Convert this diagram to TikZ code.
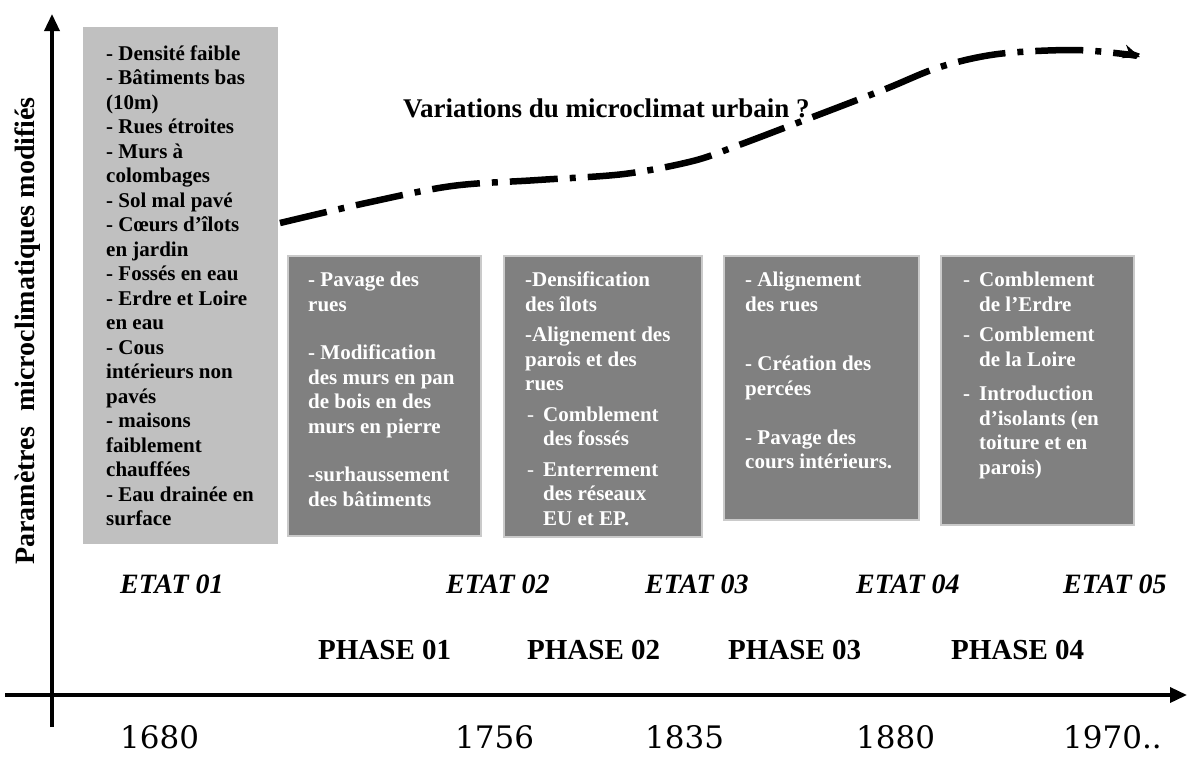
\documentclass[tikz,border=0pt]{standalone}
\usepackage{fontspec}
\setmainfont{Liberation Serif}
\newfontfamily\chiffres{DejaVu Serif}
\usetikzlibrary{positioning,arrows.meta}
\definecolor{grisClair}{HTML}{C0C0C0}
\definecolor{grisFonce}{HTML}{808080}
\definecolor{grisBord}{HTML}{CACACA}
\newcommand{\tiret}{\makebox[18pt][l]{\hspace{2pt}\mdseries -}}
\newcommand{\tiretgras}{\makebox[18pt][l]{\hspace{2pt}-}}
\newcommand{\retrait}{\hspace*{18pt}}

\begin{document}
\begin{tikzpicture}[
        x=1pt,
        y=-1pt,
        >=Stealth,
        axe/.style={-{Triangle[length=17pt,width=15pt]}, line width=3.5pt, black},
        tendance/.style={-{Stealth[length=17pt,width=14pt]}, line width=6.5pt, dash pattern=on 48pt off 12pt on 6pt off 12pt},
        etatbox/.style={fill=grisClair, anchor=north west, inner sep=0pt},
        phasebox/.style={fill=grisFonce, draw=grisBord, line width=1.6pt, anchor=north west, inner sep=0pt},
        txtclair/.style={align=left, inner sep=0pt, font=\fontsize{21}{24.5}\selectfont\bfseries},
        txtfonce/.style={align=left, inner sep=0pt, white, font=\fontsize{21}{24.5}\selectfont\bfseries},
        etat/.style={anchor=west, inner sep=0pt, font=\fontsize{28}{30}\selectfont\bfseries\itshape},
        phase/.style={anchor=west, inner sep=0pt, font=\fontsize{29}{31}\selectfont\bfseries},
        annee/.style={anchor=north west, inner sep=0pt, font=\fontsize{31}{33}\selectfont\chiffres}
    ]
        \useasboundingbox (0,0) rectangle (1188,756);

        % Axes du graphique
        \coordinate (xdeb) at (5,695);
        \coordinate (xfin) at (1187,695);
        \coordinate (ydeb) at (52,727);
        \coordinate (yfin) at (52,14);
        \draw[axe] (xdeb) -- (xfin);
        \draw[axe] (ydeb) -- (yfin);
        \node[rotate=90, inner sep=0pt, font=\fontsize{28}{30}\selectfont\bfseries] (ylabel) at (28,331) {Paramètres\hspace{0.3em} microclimatiques modifiés};

        % Etat initial (1680)
        \node[etatbox, minimum width=195pt, minimum height=517pt] (b0) at (83,27) {};
        \node[txtclair, below right=18.5pt and 23pt of b0.north west] (t0) {- Densité faible\\- Bâtiments bas\\(10m)\\- Rues étroites\\- Murs à\\colombages\\- Sol mal pavé\\- Cœurs d’îlots\\en jardin\\- Fossés en eau\\- Erdre et Loire\\en eau\\- Cous\\intérieurs non\\pavés\\- maisons\\faiblement\\chauffées\\- Eau drainée en\\surface};

        % Phases de transformation
        \node[phasebox, minimum width=193pt, minimum height=280pt] (b1) at (287,255) {};
        \node[txtfonce, below right=17pt and 21pt of b1.north west] (t1) {- Pavage des\\rues\\[24pt]- Modification\\des murs en pan\\de bois en des\\murs en pierre\\[24pt]-surhaussement\\des bâtiments};

        \node[phasebox, minimum width=198pt, minimum height=281pt] (b2) at (503,255) {};
        \node[txtfonce, below right=17pt and 22pt of b2.north west] (t2) {-Densification\\des îlots\\[6pt]-Alignement des\\parois et des\\rues\\[6pt]\tiret Comblement\\\retrait des fossés\\[6pt]\tiret Enterrement\\\retrait des réseaux\\\retrait EU et EP.};

        \node[phasebox, minimum width=195pt, minimum height=264pt] (b3) at (723,255) {};
        \node[txtfonce, below right=17pt and 22pt of b3.north west] (t3) {- Alignement\\des rues\\[35pt]- Création des\\percées\\[24.5pt]- Pavage des\\cours intérieurs.};

        \node[phasebox, minimum width=193pt, minimum height=269pt] (b4) at (940,255) {};
        \node[txtfonce, below right=17pt and 21pt of b4.north west] (t4) {\tiret Comblement\\\retrait de l’Erdre\\[6pt]\tiret Comblement\\\retrait de la Loire\\[10pt]\tiretgras Introduction\\\retrait d’isolants (en\\\retrait toiture et en\\\retrait parois)};

        % Tendance du microclimat
        \coordinate (tdeb) at (280,223);
        \coordinate (tfin) at (1140,57);
        \draw[tendance] plot[smooth, tension=0.55] coordinates {(tdeb) (366,203) (452,186) (538,180) (624,174) (693,161) (739,145) (797,123) (883,90) (940,67) (998,54) (1072,50) (1124,54) (tfin)};
        \node[anchor=west, inner sep=0pt, font=\fontsize{27}{30}\selectfont\bfseries] (titre) at (403,108) {Variations du microclimat urbain ?};

        % Etats, phases et dates
        \foreach \x/\n in {120/01, 446/02, 645/03, 856/04, 1063/05}
            \node[etat] (etat\n) at (\x,584) {ETAT \n};
        \foreach \x/\n in {318/01, 527/02, 728/03, 951/04}
            \node[phase] (phase\n) at (\x,650) {PHASE \n};
        \foreach \x/\a in {120/1680, 455/1756, 645/1835, 856/1880, 1063/1970..}
            \node[annee] (an\x) at (\x,725) {\a};
    \end{tikzpicture}
\end{document}
